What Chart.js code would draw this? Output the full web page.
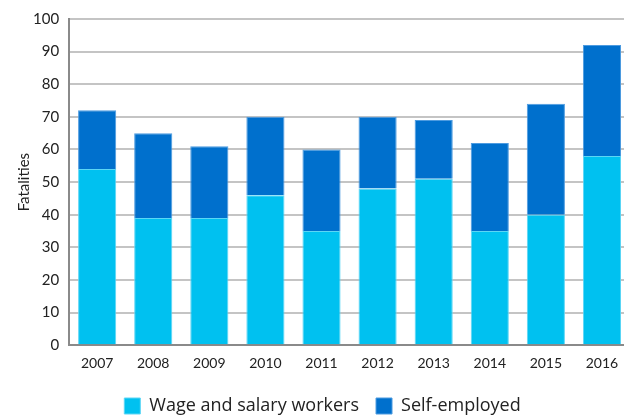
<!DOCTYPE html>
<html>
<head>
<meta charset="utf-8">
<script src="https://cdn.jsdelivr.net/npm/chart.js@4"></script>
<style>
    html, body { margin: 0; padding: 0; background: #fff; overflow: hidden; }
    #wrap { width: 630px; height: 415px; position: relative; }
</style>
</head>
<body>
<div id="wrap"><canvas id="fatalChart"></canvas></div>
<script>
const years = ['2007', '2008', '2009', '2010', '2011', '2012', '2013', '2014', '2015', '2016'];
const wageWorkers = [54, 39, 39, 46, 35, 48, 51, 35, 40, 58];
const selfEmployed = [18, 26, 22, 24, 25, 22, 18, 27, 34, 34];
const yTicks = [0, 10, 20, 30, 40, 50, 60, 70, 80, 90, 100];

const fontFamily = "'Lato', 'Open Sans', sans-serif";

const ctx = document.getElementById('fatalChart').getContext('2d');
new Chart(ctx, {
    type: 'bar',
    data: {
        labels: years,
        datasets: [{
            label: 'Wage and salary workers',
            data: wageWorkers,
            backgroundColor: '#00c1f0',
            borderColor: '#5cd6f5',
            borderWidth: 1,
            barPercentage: 0.68,
            categoryPercentage: 1
        }, {
            label: 'Self-employed',
            data: selfEmployed,
            backgroundColor: '#0070cd',
            borderColor: '#4d9be0',
            borderWidth: 1,
            barPercentage: 0.68,
            categoryPercentage: 1
        }]
    },
    options: {
        responsive: true,
        maintainAspectRatio: false,
        animation: false,
        layout: { padding: { top: 13, left: 15, right: 0, bottom: -10 } },
        plugins: {
            tooltip: { enabled: false },
            legend: {
                position: 'bottom',
                labels: {
                    boxWidth: 16,
                    boxHeight: 16,
                    padding: 17,
                    color: '#222',
                    font: { family: "'Open Sans', sans-serif", size: 18 }
                }
            }
        },
        scales: {
            x: {
                stacked: true,
                grid: { display: false },
                border: { color: '#8a8a8a', width: 2 },
                ticks: { color: '#222', padding: 2, font: { family: fontFamily, size: 14 } },
                afterFit: axis => { axis.height += 6; }
            },
            y: {
                stacked: true,
                min: 0,
                max: 100,
                afterBuildTicks: axis => { axis.ticks = yTicks.map(v => ({ value: v })); },
                grid: { color: '#c4c4c4', lineWidth: 2, drawTicks: false },
                border: { color: '#8a8a8a', width: 2 },
                ticks: { color: '#222', padding: 10, font: { family: fontFamily, size: 15 } },
                title: {
                    display: true,
                    text: 'Fatalities',
                    color: '#222',
                    padding: { top: 0, bottom: -10 },
                    font: { family: fontFamily, size: 15 }
                }
            }
        }
    }
});
</script>
</body>
</html>
